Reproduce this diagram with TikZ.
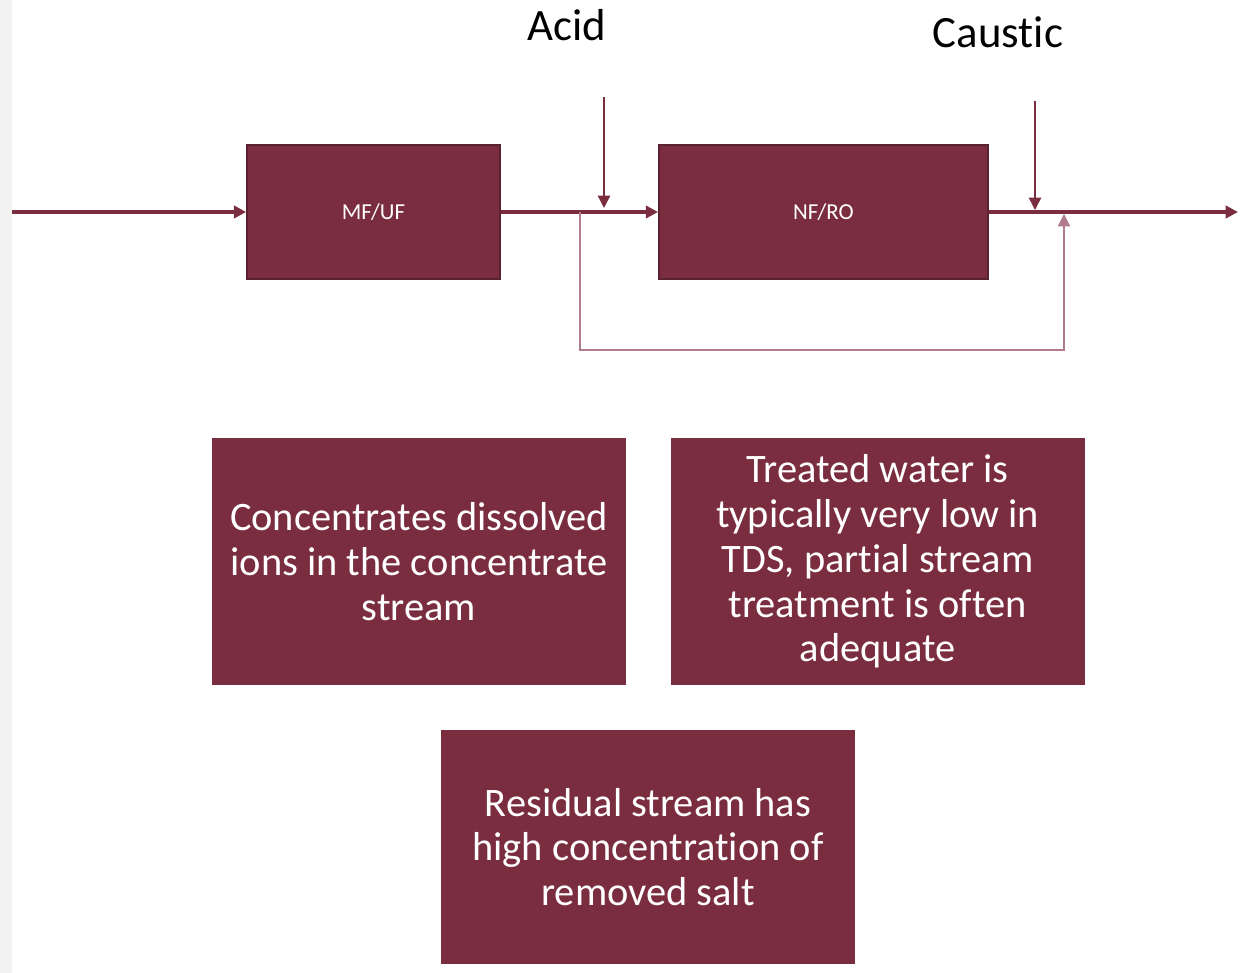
\documentclass[tikz,border=0pt]{standalone}
\usepackage{fontspec}
\setmainfont{Carlito}[Ligatures={NoCommon}]
\usetikzlibrary{positioning,arrows.meta}
\definecolor{wine}{HTML}{7A2D3F}
\definecolor{winedark}{HTML}{5C2131}
\definecolor{winelight}{HTML}{B07C89}
\tikzset{
>={Triangle[length=7pt,width=7pt]},
unit/.style={draw=winedark, line width=1pt, fill=wine, text=white, minimum height=2.68cm, font=\fontsize{13}{15}\selectfont},
note/.style={fill=wine, text=white, minimum width=8.28cm, minimum height=4.94cm, align=center, font=\fontsize{23}{25.5}\selectfont},
flow/.style={->, wine, line width=2.2pt},
dose/.style={->, wine, line width=0.8pt},
bypass/.style={->, winelight, line width=0.6pt},
chem/.style={font=\fontsize{25.5}{30}\selectfont},
}

\begin{document}
\begin{tikzpicture}
    [x=0.02cm, y=-0.02cm]
    \useasboundingbox (0,0) rectangle (1242,973);
    \fill[gray!10] (0,0) rectangle (12,973);

    %process line
    \node[unit, minimum width=5.06cm] (MFUF) at (373.5,212) {MF/UF};
    \node[unit, minimum width=6.58cm, right of=MFUF, node distance=9cm] (NFRO) {NF/RO};

    \coordinate (feed) at (12,212);
    \coordinate (out) at (1238,212);
    \coordinate (split) at (580,212);
    \coordinate (join) at (1064,214);

    %chemicals
    \node[chem] (acid) at (567,25) {Acid};
    \node[chem] (caustic) at (998,32) {Caustic};
    \coordinate (acidin) at (604,97);
    \coordinate (acidpt) at (604,208);
    \coordinate (causticin) at (1035,101);
    \coordinate (causticpt) at (1035,210);

    %notes
    \node[note] (ions) at (419,561.5) {Concentrates dissolved\\ions in the concentrate\\stream};
    \node[note, right=0.88cm of ions] (treated) {Treated water is\\typically very low in\\TDS, partial stream\\treatment is often\\adequate};
    \node[note, minimum height=4.68cm] (residual) at (648,847) {Residual stream has\\high concentration of\\removed salt};

    \draw[flow] (feed) to (MFUF);
    \draw[flow] (MFUF) to (NFRO);
    \draw[flow] (NFRO) to (out);
    \draw[dose] (acidin) to (acidpt);
    \draw[dose] (causticin) to (causticpt);
    \draw[bypass] (split) -- ++(0,138) -| (join);
\end{tikzpicture}
\end{document}
